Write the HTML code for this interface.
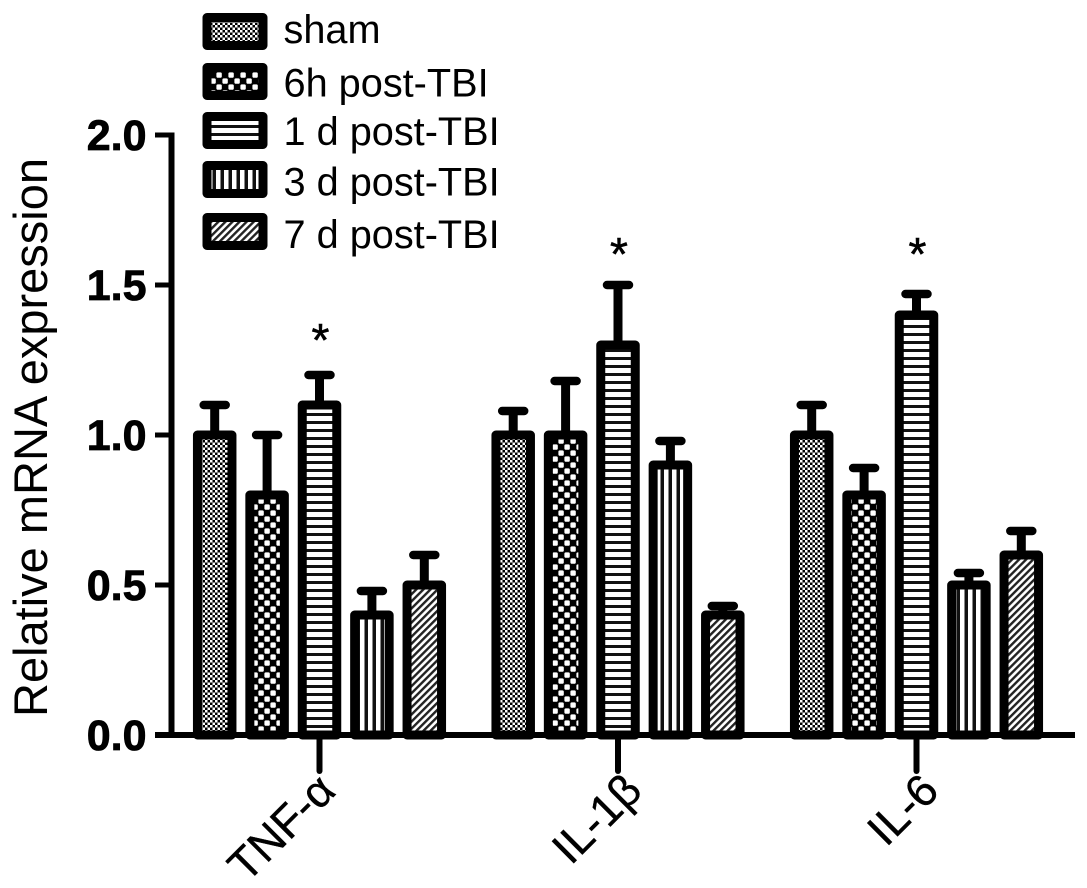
<!DOCTYPE html>
<html>
<head>
<meta charset="utf-8">
<title>Relative mRNA expression</title>
<style>
html,body{margin:0;padding:0;background:#fff}
svg{display:block}
text{font-family:"Liberation Sans",sans-serif;fill:#000}
</style>
</head>
<body>
<svg id="chart" xmlns="http://www.w3.org/2000/svg" width="1087" height="888" viewBox="0 0 1087 888">
<defs>
<pattern id="p0" width="5" height="5" patternUnits="userSpaceOnUse"><rect width="5" height="5" fill="#000"/><rect width="2.5" height="2.5" fill="#fff"/><rect x="2.5" y="2.5" width="2.5" height="2.5" fill="#fff"/></pattern>
<pattern id="p1" width="12" height="12" patternUnits="userSpaceOnUse"><rect width="12" height="12" fill="#000"/><rect x="0.4" y="0.4" width="5.4" height="5.4" rx="1.4" fill="#fff"/><rect x="6.4" y="6.4" width="5.4" height="5.4" rx="1.4" fill="#fff"/></pattern>
<pattern id="p2" width="8" height="8" patternUnits="userSpaceOnUse"><rect width="8" height="8" fill="#fff"/><rect y="5" width="8" height="3" fill="#111"/></pattern>
<pattern id="p3" width="8" height="8" patternUnits="userSpaceOnUse"><rect width="8" height="8" fill="#fff"/><rect x="4.5" width="3.5" height="8" fill="#111"/></pattern>
<pattern id="p4" width="5" height="5" patternUnits="userSpaceOnUse" patternTransform="rotate(45)"><rect width="5" height="5" fill="#fff"/><rect width="2.4" height="5" fill="#222"/></pattern>
</defs>
<rect width="1087" height="888" fill="#fff"/>
<g id="bars"></g>
<g id="axes"></g>
<g id="legend"></g>
</svg>
<script>
var categories = ['TNF-α', 'IL-1β', 'IL-6'];
var seriesNames = ['sham', '6h post-TBI', '1 d post-TBI', '3 d post-TBI', '7 d post-TBI'];
var shamValues = [1.0, 1.0, 1.0];
var h6Values = [0.8, 1.0, 0.8];
var d1Values = [1.1, 1.3, 1.4];
var d3Values = [0.4, 0.9, 0.5];
var d7Values = [0.5, 0.4, 0.6];
var shamErrors = [0.10, 0.08, 0.10];
var h6Errors = [0.20, 0.18, 0.09];
var d1Errors = [0.10, 0.20, 0.07];
var d3Errors = [0.08, 0.08, 0.04];
var d7Errors = [0.10, 0.03, 0.08];
var yTickValues = [0, 0.5, 1.0, 1.5, 2.0];
var yTickLabels = ['0.0', '0.5', '1.0', '1.5', '2.0'];
var significantSeries = [2, 2, 2];
var asteriskLevels = [1.333, 1.62, 1.62];

var allValues = [shamValues, h6Values, d1Values, d3Values, d7Values];
var allErrors = [shamErrors, h6Errors, d1Errors, d3Errors, d7Errors];
var NS = 'http://www.w3.org/2000/svg';

function yScale(v) { return 735 - v * 300; }
function groupCenter(i) { return 319.5 + i * 298.5; }
function barCenter(i, j) { return groupCenter(i) + (j - 2) * 52.4; }

function make(parent, tag, attrs, text) {
  var el = document.createElementNS(NS, tag);
  Object.keys(attrs).forEach(function (k) { el.setAttribute(k, attrs[k]); });
  if (text !== undefined) el.textContent = text;
  parent.appendChild(el);
  return el;
}

var barsG = document.getElementById('bars');
var axesG = document.getElementById('axes');
var legendG = document.getElementById('legend');
var barWidth = 34.5;

categories.forEach(function (cat, i) {
  seriesNames.forEach(function (name, j) {
    var val = allValues[j][i];
    var err = allErrors[j][i];
    var cx = barCenter(i, j);
    var top = yScale(val);
    var errTop = yScale(val + err);
    var stem = make(barsG, 'line', { x1: cx, x2: cx, y1: top, y2: errTop, stroke: '#000', 'stroke-width': 9 });
    
    
    var cap = make(barsG, 'line', { x1: cx - 11, x2: cx + 11, y1: errTop, y2: errTop, stroke: '#000', 'stroke-width': 8.5, 'stroke-linecap': 'round' });
    
    
    var bar = make(barsG, 'rect', { x: cx - barWidth / 2, y: top, width: barWidth, height: yScale(0) - top, fill: 'url(#p' + j + ')', stroke: '#000', 'stroke-width': 9, 'stroke-linejoin': 'round' });
    
    
    if (significantSeries[i] === j) {
      var star = make(barsG, 'text', { x: cx + 1, y: yScale(asteriskLevels[i]) + 21, 'font-size': 46, 'text-anchor': 'middle', stroke: '#000', 'stroke-width': 0.6 }, '*');
      
      
    }
  });
});

var yLine = make(axesG, 'line', { x1: 171.5, x2: 171.5, y1: 132.5, y2: 738, stroke: '#000', 'stroke-width': 6 });


var xLine = make(axesG, 'line', { x1: 155, x2: 1075, y1: 735, y2: 735, stroke: '#000', 'stroke-width': 6 });



yTickValues.forEach(function (v, k) {
  var y = yScale(v);
  var tick = make(axesG, 'line', { x1: 155, x2: 172, y1: y, y2: y, stroke: '#000', 'stroke-width': 5 });
  
  
  var lab = make(axesG, 'text', { x: 146.5, y: y + 15, 'font-size': 43, 'font-weight': 'bold', 'text-anchor': 'end', stroke: '#000', 'stroke-width': 0.8 }, yTickLabels[k]);
  
  
});

var xLabelShift = [18, 26, 24.5];
categories.forEach(function (cat, i) {
  var x = groupCenter(i);
  var tick = make(axesG, 'line', { x1: x, x2: x, y1: 735, y2: 771, stroke: '#000', 'stroke-width': 6, 'stroke-linecap': 'round' });
  
  
  var ax = x + xLabelShift[i], ay = 793;
  var lab = make(axesG, 'text', { x: ax, y: ay, 'font-size': 45, 'text-anchor': 'end', stroke: '#000', 'stroke-width': 0.4, transform: 'rotate(-45 ' + ax + ' ' + ay + ')' }, cat);
  
  
});

var yTitle = make(axesG, 'text', { x: 47, y: 437.5, 'font-size': 47, 'text-anchor': 'middle', transform: 'rotate(-90 47 437.5)' }, 'Relative mRNA expression');



var legendRowTops = [17.5, 67.5, 116.5, 165.5, 217.5];
var legendRowBaselines = [43, 96.5, 145, 195.5, 248];
seriesNames.forEach(function (name, j) {
  var swatch = make(legendG, 'rect', { x: 207, y: legendRowTops[j], width: 56, height: 28, fill: 'url(#p' + j + ')', stroke: '#000', 'stroke-width': 9, 'stroke-linejoin': 'round' });
  
  
  var label = make(legendG, 'text', { x: 283.5, y: legendRowBaselines[j], 'font-size': 39.7 }, name);
  
  
});
</script>
</body>
</html>
